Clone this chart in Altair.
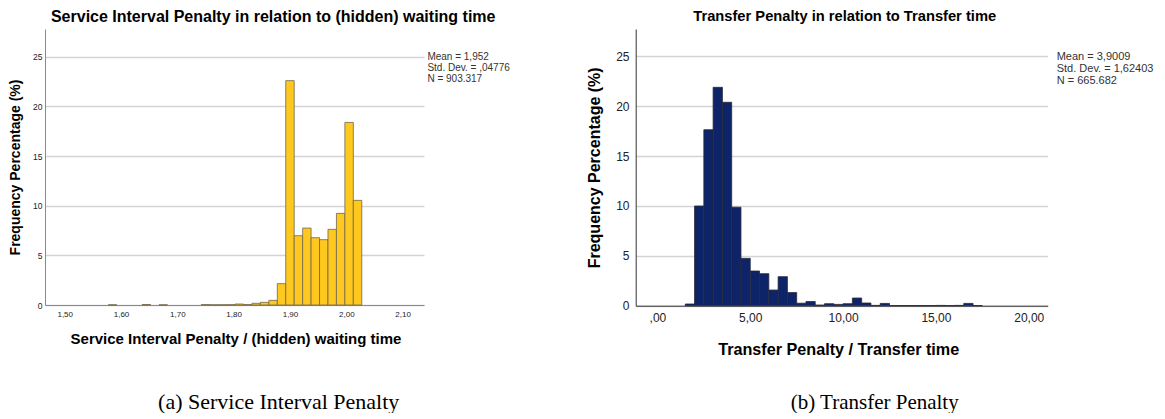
import altair as alt
import pandas as pd

FONT = "Liberation Sans"
SERIF = "Liberation Serif"

# ---------------- Panel (a): Service Interval Penalty ----------------
left_bin_start = [1.5775, 1.6375, 1.6675, 1.7425, 1.7575, 1.7725, 1.7875, 1.8025,
                  1.8175, 1.8325, 1.8475, 1.8625, 1.8775, 1.8925, 1.9075, 1.9225,
                  1.9375, 1.9525, 1.9675, 1.9825, 1.9975, 2.0125]
left_pct = [0.02, 0.05, 0.02, 0.04, 0.02, 0.02, 0.03, 0.10,
            0.04, 0.17, 0.27, 0.47, 2.15, 22.6, 6.98, 7.75,
            6.78, 6.58, 7.62, 9.23, 18.39, 10.54]
left_bin_width = 0.015
left_x_domain = [1.465, 2.138]
left_x_ticks = [1.5, 1.6, 1.7, 1.8, 1.9, 2.0, 2.1]
left_stats = ["Mean = 1,952", "Std. Dev. = ,04776", "N = 903.317"]
left_title = "Service Interval Penalty in relation to (hidden) waiting time"
left_x_title = "Service Interval Penalty / (hidden) waiting time"
left_caption = "(a) Service Interval Penalty"

# ---------------- Panel (b): Transfer Penalty ----------------
right_bin_start = [1.5, 2.0, 2.5, 3.0, 3.5, 4.0, 4.5, 5.0, 5.5, 6.0, 6.5, 7.0,
                   7.5, 8.0, 8.5, 9.0, 9.5, 10.0, 10.5, 11.0, 11.5, 12.0, 12.5,
                   13.0, 13.5, 14.0, 14.5, 15.0, 15.5, 16.0, 16.5, 17.0]
right_pct = [0.17, 10.0, 17.65, 21.9, 20.4, 9.88, 4.75, 3.48, 3.21, 1.57, 2.91, 1.32,
             0.25, 0.42, 0.07, 0.2, 0.13, 0.2, 0.77, 0.27, 0.03, 0.23, 0.02,
             0.02, 0.02, 0.02, 0.02, 0.03, 0.02, 0.03, 0.23, 0.02]
right_bin_width = 0.5
right_x_domain = [-1.17, 21.02]
right_x_ticks = [0, 5, 10, 15, 20]
right_stats = ["Mean = 3,9009", "Std. Dev. = 1,62403", "N = 665.682"]
right_title = "Transfer Penalty in relation to Transfer time"
right_x_title = "Transfer Penalty / Transfer time"
right_caption = "(b) Transfer Penalty"

y_ticks = [0, 5, 10, 15, 20, 25]
y_title = "Frequency Percentage (%)"


def panel(starts, pct, bw, xdom, xticks, label_expr, fill, stroke, axis_color,
          width, height, ymax, title, title_size, title_dx, title_offset,
          x_title, x_title_size, x_title_pad, x_label_size, x_label_pad, x_title_x,
          y_title_size, y_title_pad, y_label_size, y_label_pad,
          stats, stats_size, stats_x, stats_y, stats_lh,
          caption, caption_size, caption_x, caption_y):
    df = pd.DataFrame({"start": starts, "pct": pct})
    base = alt.Chart(df).transform_calculate(end=f"datum.start + {bw}")
    bars = base.mark_rect(fill=fill, stroke=stroke, strokeWidth=0.8).encode(
        x=alt.X("start:Q",
                scale=alt.Scale(domain=xdom, nice=False, zero=False),
                axis=alt.Axis(values=xticks, labelExpr=label_expr, grid=False,
                              ticks=False, domainColor=axis_color, domainWidth=1,
                              labelFontSize=x_label_size, labelPadding=x_label_pad,
                              labelColor="#222222", labelFont=FONT,
                              title=x_title, titleFontSize=x_title_size,
                              titleFontWeight="bold", titleColor="#000000",
                              titlePadding=x_title_pad, titleFont=FONT,
                              titleX=x_title_x, labelFlush=False)),
        x2="end:Q",
        y=alt.Y("pct:Q",
                scale=alt.Scale(domain=[0, ymax], nice=False, zero=True),
                axis=alt.Axis(values=y_ticks, grid=True, gridColor="#d4d4d4",
                              gridWidth=1.5, ticks=False, domainColor=axis_color,
                              domainWidth=1, labelFontSize=y_label_size,
                              labelPadding=y_label_pad, labelColor="#222222",
                              labelFont=FONT, title=y_title,
                              titleFontSize=y_title_size, titleFontWeight="bold",
                              titleColor="#000000", titlePadding=y_title_pad,
                              titleFont=FONT)),
        y2=alt.datum(0),
    )
    stats_df = pd.DataFrame({"t": ["\n".join(stats)]})
    stats_txt = alt.Chart(stats_df).mark_text(
        align="left", baseline="alphabetic", lineBreak="\n", fontSize=stats_size,
        lineHeight=stats_lh, font=FONT, color="#333333").encode(
        text="t:N", x=alt.value(stats_x), y=alt.value(stats_y))
    cap_df = pd.DataFrame({"t": [caption]})
    cap_txt = alt.Chart(cap_df).mark_text(
        align="center", baseline="alphabetic", fontSize=caption_size, font=SERIF,
        color="#000000").encode(
        text="t:N", x=alt.value(caption_x), y=alt.value(caption_y))
    return alt.layer(bars, stats_txt, cap_txt).properties(
        width=width, height=height,
        title=alt.TitleParams(text=title, fontSize=title_size, fontWeight="bold",
                              font=FONT, color="#000000", anchor="middle",
                              frame="group", dx=title_dx, offset=title_offset))


left = panel(left_bin_start, left_pct, left_bin_width, left_x_domain, left_x_ticks,
             "replace(format(datum.value, '.2f'), '.', ',')",
             "#FFC81F", "#6e6650", "#8a8a8a",
             379, 276, 27.8, left_title, 16, 38.7, 4.3,
             left_x_title, 15, 13, 8, 5, 190.5,
             14, 10, 8.5, 3,
             left_stats, 10, 382.4, 31.2, 10.7,
             left_caption, 22, 233.7, 379.7)

right = panel(right_bin_start, right_pct, right_bin_width, right_x_domain, right_x_ticks,
              "datum.value == 0 ? ',00' : replace(format(datum.value, '.2f'), '.', ',')",
              "#0D2468", "#2a2a3a", "#333333",
              412, 276.7, 27.75, right_title, 14.7, 3, 5.6,
              right_x_title, 16.2, 18, 12, 6.8, 202.5,
              16, 13, 12, 6.7,
              right_stats, 11, 421, 31.2, 12,
              right_caption, 21, 239, 379.7)

chart = alt.hconcat(left, right, spacing=211.7, bounds="flush").properties(
    padding=0, background="white"
).configure(font=FONT).configure_view(stroke=None)

chart.save("out.html", embed_options={"renderer": "svg", "actions": False})
